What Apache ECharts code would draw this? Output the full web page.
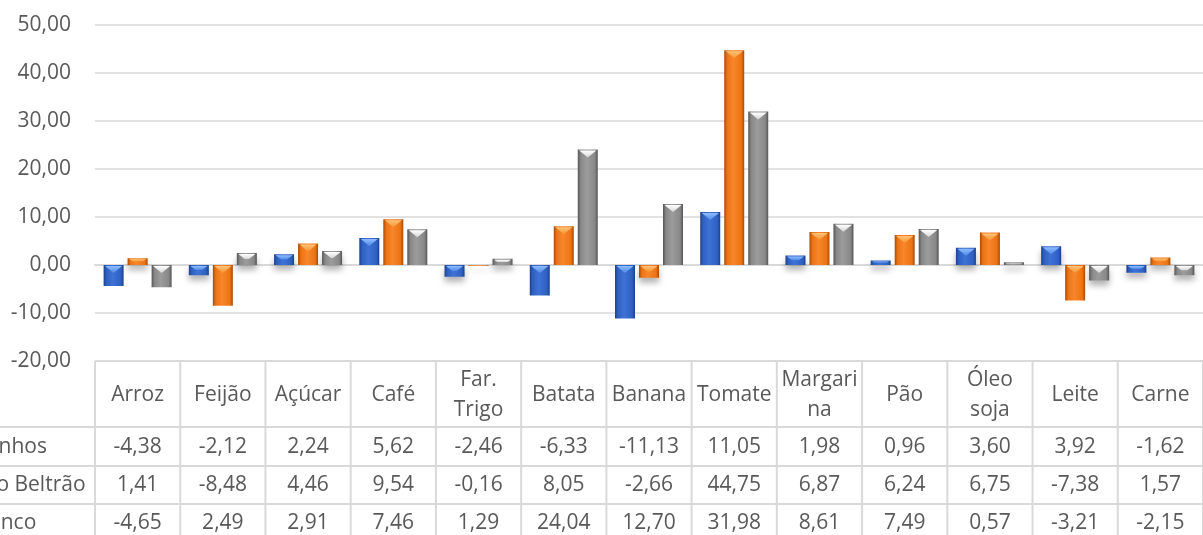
<!DOCTYPE html>
<html>
<head>
<meta charset="utf-8">
<script src="https://cdn.jsdelivr.net/npm/echarts@6/dist/echarts.min.js"></script>
<style>
    html, body { margin: 0; padding: 0; background: #fff; }
    #chart { width: 1203px; height: 535px; }
</style>
</head>
<body>
<div id="chart"></div>
<script>
// Dados (variação %) por produto
const categories = ['Arroz', 'Feijão', 'Açúcar', 'Café', 'Far.\nTrigo', 'Batata', 'Banana', 'Tomate', 'Margari\nna', 'Pão', 'Óleo\nsoja', 'Leite', 'Carne'];
const seriesNames = ['Dois Vizinhos', 'Francisco Beltrão', 'Pato Branco'];
const doisVizinhos = [-4.38, -2.12, 2.24, 5.62, -2.46, -6.33, -11.13, 11.05, 1.98, 0.96, 3.60, 3.92, -1.62];
const franciscoBeltrao = [1.41, -8.48, 4.46, 9.54, -0.16, 8.05, -2.66, 44.75, 6.87, 6.24, 6.75, -7.38, 1.57];
const patoBranco = [-4.65, 2.49, 2.91, 7.46, 1.29, 24.04, 12.70, 31.98, 8.61, 7.49, 0.57, -3.21, -2.15];
const yMin = -20;
const yMax = 50;
const yInterval = 10;

const seriesValues = [doisVizinhos, franciscoBeltrao, patoBranco];

// estilo (bisel do Excel)
const palette = [
    { edge: '#1b428a', mid: '#2f60c2', light: '#3f72d6', top: ['#8fbcff', '#4f8ae6'] },
    { edge: '#a94b06', mid: '#ec7414', light: '#f8862a', top: ['#ffc27a', '#f7952f'] },
    { edge: '#555555', mid: '#888888', light: '#9c9c9c', top: ['#ffffff', '#d6d6d6'] }
];
const barW = 20;
const offsets = [-24, 0, 24];
const textColor = '#595959';
const lineColor = '#d9d9d9';
const font = '"Open Sans", "Noto Sans", sans-serif';
const fontSize = 21;

const fmt = v => v.toFixed(2).replace('.', ',');

const chart = echarts.init(document.getElementById('chart'));

function bodyGradient(c) {
    return new echarts.graphic.LinearGradient(0, 0, 1, 0, [
        { offset: 0, color: c.edge },
        { offset: 0.15, color: c.mid },
        { offset: 0.45, color: c.light },
        { offset: 0.85, color: c.mid },
        { offset: 1, color: c.edge }
    ]);
}

function bevelRender(s) {
    return function (params, api) {
        const base = api.coord([api.value(0), 0]);
        const end = api.coord([api.value(0), api.value(1)]);
        const h = Math.abs(base[1] - end[1]);
        if (h < 1.5) return null;
        const top = Math.min(base[1], end[1]);
        const xc = base[0] + offsets[s];
        const dMax = barW * 0.4;
        const d = Math.min(dMax, h / 2);
        const ihw = (barW / 2 - 1.5) * (1 - d / dMax);
        const c = palette[s];
        return {
            type: 'polygon',
            silent: true,
            shape: {
                points: [
                    [xc - barW / 2 + 1.5, top + 1],
                    [xc + barW / 2 - 1.5, top + 1],
                    [xc + ihw, top + d],
                    [xc - ihw, top + d]
                ]
            },
            style: {
                fill: new echarts.graphic.LinearGradient(0, 0, 0, 1, [
                    { offset: 0, color: c.top[0] },
                    { offset: 1, color: c.top[1] }
                ])
            }
        };
    };
}

const series = [];
seriesValues.forEach((vals, s) => {
    series.push({
        name: seriesNames[s],
        type: 'bar',
        data: vals,
        barWidth: barW,
        barGap: '20%',
        itemStyle: {
            color: bodyGradient(palette[s]),
            shadowColor: 'rgba(0,0,0,0.3)',
            shadowBlur: 6,
            shadowOffsetY: 5
        },
        z: 2
    });
});
seriesValues.forEach((vals, s) => {
    series.push({
        name: seriesNames[s] + ' bisel',
        type: 'custom',
        renderItem: bevelRender(s),
        data: vals.map((v, i) => [i, v]),
        z: 3,
        silent: true
    });
});

const option = {
    animation: false,
    grid: { left: 95, top: 25, width: 1118, height: 336 },
    xAxis: {
        type: 'category',
        data: categories,
        axisLine: { onZero: true, lineStyle: { color: lineColor, width: 2 } },
        axisTick: { show: false },
        axisLabel: { show: false }
    },
    yAxis: {
        type: 'value',
        min: yMin,
        max: yMax,
        interval: yInterval,
        axisLine: { show: false },
        axisTick: { show: false },
        splitLine: { lineStyle: { color: lineColor, width: 1.5 } },
        axisLabel: {
            margin: 24,
            color: textColor,
            fontFamily: font,
            fontSize: fontSize,
            formatter: v => fmt(v)
        }
    },
    series: series
};
chart.setOption(option);

// tabela de dados abaixo do gráfico
const centers = categories.map((_, i) => chart.convertToPixel({ xAxisIndex: 0 }, i));
const colW = centers[1] - centers[0];
const tableLeft = centers[0] - colW / 2;
const tableRight = centers[centers.length - 1] + colW / 2;
const headerTop = 361;
const rowLines = [427, 466, 504];
const rowMid = [447, 485, 523];
const headerMid = 395;
const labelStart = -83;

const graphics = [];
const hline = (x1, x2, y) => graphics.push({
    type: 'line', silent: true,
    shape: { x1: x1, y1: y, x2: x2, y2: y },
    style: { stroke: lineColor, lineWidth: 2 }
});
hline(tableLeft, tableRight, headerTop);
rowLines.forEach(y => hline(0, tableRight, y));
for (let i = 0; i <= categories.length; i++) {
    const x = tableLeft + i * colW;
    graphics.push({
        type: 'line', silent: true,
        shape: { x1: x, y1: headerTop, x2: x, y2: 540 },
        style: { stroke: lineColor, lineWidth: 2 }
    });
}
const textFont = fontSize + 'px ' + font;
categories.forEach((c, i) => {
    graphics.push({
        type: 'text', silent: true,
        x: centers[i], y: headerMid,
        style: {
            text: c, fill: textColor, font: textFont,
            align: 'center', verticalAlign: 'middle', lineHeight: 30
        }
    });
});
seriesValues.forEach((vals, s) => {
    graphics.push({
        type: 'text', silent: true,
        x: labelStart, y: rowMid[s],
        style: {
            text: seriesNames[s], fill: textColor, font: textFont,
            align: 'left', verticalAlign: 'middle'
        }
    });
    vals.forEach((v, i) => {
        graphics.push({
            type: 'text', silent: true,
            x: centers[i], y: rowMid[s],
            style: {
                text: fmt(v), fill: textColor, font: textFont,
                align: 'center', verticalAlign: 'middle'
            }
        });
    });
});
chart.setOption({ graphic: graphics });
</script>
</body>
</html>
